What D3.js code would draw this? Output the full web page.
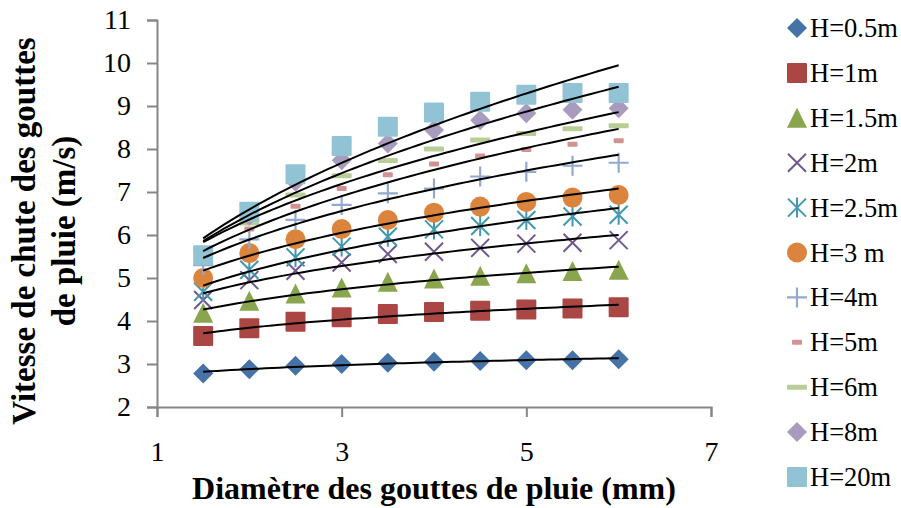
<!DOCTYPE html>
<html>
<head>
<meta charset="utf-8">
<script src="https://cdn.jsdelivr.net/npm/d3@7/dist/d3.min.js"></script>
<style>
  body { margin: 0; background: #fff; }
  text { font-family: "Liberation Serif", "Times New Roman", serif; fill: #000; }
</style>
</head>
<body>
<svg id="chart" width="901" height="508"></svg>
<script>
// drop diameters (mm)
const diameters = [1.5, 2, 2.5, 3, 3.5, 4, 4.5, 5, 5.5, 6];
const seriesNames = ['H=0.5m', 'H=1m', 'H=1.5m', 'H=2m', 'H=2.5m', 'H=3 m',
  'H=4m', 'H=5m', 'H=6m', 'H=8m', 'H=20m'];

// fall velocity (m/s)
const vH05 = [2.78, 2.88, 2.96, 3.00, 3.03, 3.05, 3.07, 3.09, 3.09, 3.11];
const vH1 = [3.65, 3.83, 3.98, 4.09, 4.16, 4.21, 4.24, 4.27, 4.29, 4.32];
const vH15 = [4.19, 4.47, 4.64, 4.78, 4.91, 4.99, 5.05, 5.11, 5.16, 5.19];
const vH2 = [4.49, 4.95, 5.17, 5.36, 5.56, 5.61, 5.70, 5.80, 5.82, 5.88];
const vH25 = [4.68, 5.19, 5.48, 5.73, 5.96, 6.13, 6.21, 6.35, 6.43, 6.47];
const vH3 = [5.00, 5.58, 5.90, 6.14, 6.35, 6.52, 6.66, 6.77, 6.87, 6.93];
const vH4 = [5.30, 5.90, 6.35, 6.70, 6.97, 7.08, 7.36, 7.47, 7.61, 7.68];
const vH5 = [5.40, 6.14, 6.67, 7.08, 7.40, 7.65, 7.84, 7.99, 8.11, 8.19];
const vH6 = [5.65, 6.28, 6.93, 7.38, 7.73, 8.00, 8.21, 8.36, 8.47, 8.54];
const vH8 = [5.50, 6.45, 7.24, 7.74, 8.13, 8.44, 8.67, 8.83, 8.91, 8.95];
const vH20 = [5.53, 6.54, 7.41, 8.07, 8.52, 8.85, 9.10, 9.26, 9.30, 9.30];

const allValues = [vH05, vH1, vH15, vH2, vH25, vH3, vH4, vH5, vH6, vH8, vH20];
const colors = ['#4572A7', '#AA4643', '#89A54E', '#71588F', '#4198AF', '#DB843D',
  '#93A9CF', '#D19392', '#B9CD96', '#A99BBD', '#91C3D5'];
const shapes = ['diamond', 'square', 'triangle', 'x', 'star', 'circle',
  'plus', 'dash', 'longdash', 'diamond', 'square'];

const xTicks = [1, 3, 5, 7];
const yTicks = [2, 3, 4, 5, 6, 7, 8, 9, 10, 11];

const svg = d3.select('#chart');

const x = d3.scaleLinear().domain([1, 7]).range([157, 711]);
const y = d3.scaleLinear().domain([2, 11]).range([407, 20]);

// marker drawing, centred at (0,0) of g
function drawMarker(g, shape, color) {
  if (shape === 'diamond') {
    g.append('path').attr('d', 'M0,-10L10,0L0,10L-10,0Z').attr('fill', color);
  } else if (shape === 'square') {
    g.append('rect').attr('x', -10).attr('y', -10).attr('width', 20).attr('height', 20)
      .attr('fill', color).attr('rx', 1);
  } else if (shape === 'triangle') {
    g.append('path').attr('d', 'M0,-10L10,10L-10,10Z').attr('fill', color);
  } else if (shape === 'circle') {
    g.append('circle').attr('r', 10).attr('fill', color);
  } else if (shape === 'x') {
    g.append('path').attr('d', 'M-9,-9L9,9M-9,9L9,-9')
      .attr('stroke', color).attr('stroke-width', 2).attr('fill', 'none');
  } else if (shape === 'star') {
    g.append('path').attr('d', 'M-9,-9L9,9M-9,9L9,-9M0,-10L0,10')
      .attr('stroke', color).attr('stroke-width', 2).attr('fill', 'none');
  } else if (shape === 'plus') {
    g.append('path').attr('d', 'M-10,0L10,0M0,-10L0,10')
      .attr('stroke', color).attr('stroke-width', 2.2).attr('fill', 'none');
  } else if (shape === 'dash') {
    g.append('rect').attr('x', -5).attr('y', -2.5).attr('width', 10).attr('height', 5)
      .attr('fill', color).attr('rx', 1);
  } else if (shape === 'longdash') {
    g.append('rect').attr('x', -10).attr('y', -2.5).attr('width', 20).attr('height', 5)
      .attr('fill', color).attr('rx', 1);
  }
}

// axes
const yAxis = svg.append('g').attr('transform', `translate(${x(1)},0)`)
  .call(d3.axisLeft(y).tickValues(yTicks).tickSize(10).tickPadding(16).tickFormat(d3.format('d')));
const xAxis = svg.append('g').attr('transform', `translate(0,${y(2)})`)
  .call(d3.axisBottom(x).tickValues(xTicks).tickSize(10).tickPadding(24).tickFormat(d3.format('d')));
[yAxis, xAxis].forEach(a => {
  a.selectAll('path.domain').attr('stroke', '#868686').attr('stroke-width', 2);
  a.selectAll('.tick line').attr('stroke', '#868686').attr('stroke-width', 2);
  a.selectAll('.tick text').attr('font-family', '"Liberation Serif", serif')
    .attr('font-size', 28).attr('fill', '#000');
});

// markers
allValues.forEach((vals, si) => {
  svg.append('g').selectAll('g')
    .data(diameters.map((d, i) => [d, vals[i]]))
    .join('g')
    .attr('transform', d => `translate(${x(d[0])},${y(d[1])})`)
    .each(function () { drawMarker(d3.select(this), shapes[si], colors[si]); });
});

// power trend lines (least squares on ln v vs ln d), like the spreadsheet's trendline
function powerFit(xs, ys) {
  const lx = xs.map(Math.log), ly = ys.map(Math.log);
  const mx = d3.mean(lx), my = d3.mean(ly);
  const b = d3.sum(lx, (v, i) => (v - mx) * (ly[i] - my)) / d3.sum(lx, v => (v - mx) ** 2);
  const a = Math.exp(my - b * mx);
  return t => a * Math.pow(t, b);
}
const line = d3.line().x(d => x(d[0])).y(d => y(d[1]));
const trendX = d3.range(0, 61).map(i => 1.5 + i * 4.5 / 60);
allValues.forEach(vals => {
  const f = powerFit(diameters, vals);
  svg.append('path')
    .attr('d', line(trendX.map(t => [t, f(t)])))
    .attr('fill', 'none').attr('stroke', '#000').attr('stroke-width', 2);
});

// legend
const legend = svg.append('g');
seriesNames.forEach((name, i) => {
  const cy = 28 + i * 44.9;
  const g = legend.append('g').attr('transform', `translate(797,${cy})`);
  drawMarker(g, shapes[i], colors[i]);
  legend.append('text').attr('x', 810).attr('y', cy + 9)
    .attr('font-size', 26.5).text(name);
});

// axis titles
svg.append('text')
  .attr('x', 434).attr('y', 499)
  .attr('text-anchor', 'middle').attr('font-weight', 'bold').attr('font-size', 32)
  .text('Diamètre des gouttes de pluie (mm)');

const yt = svg.append('text')
  .attr('transform', 'translate(0,231) rotate(-90)')
  .attr('text-anchor', 'middle').attr('font-weight', 'bold').attr('font-size', 33);
yt.append('tspan').attr('x', 0).attr('y', 35).text('Vitesse de chute des gouttes');
yt.append('tspan').attr('x', 0).attr('y', 75).text('de pluie (m/s)');
</script>
</body>
</html>
